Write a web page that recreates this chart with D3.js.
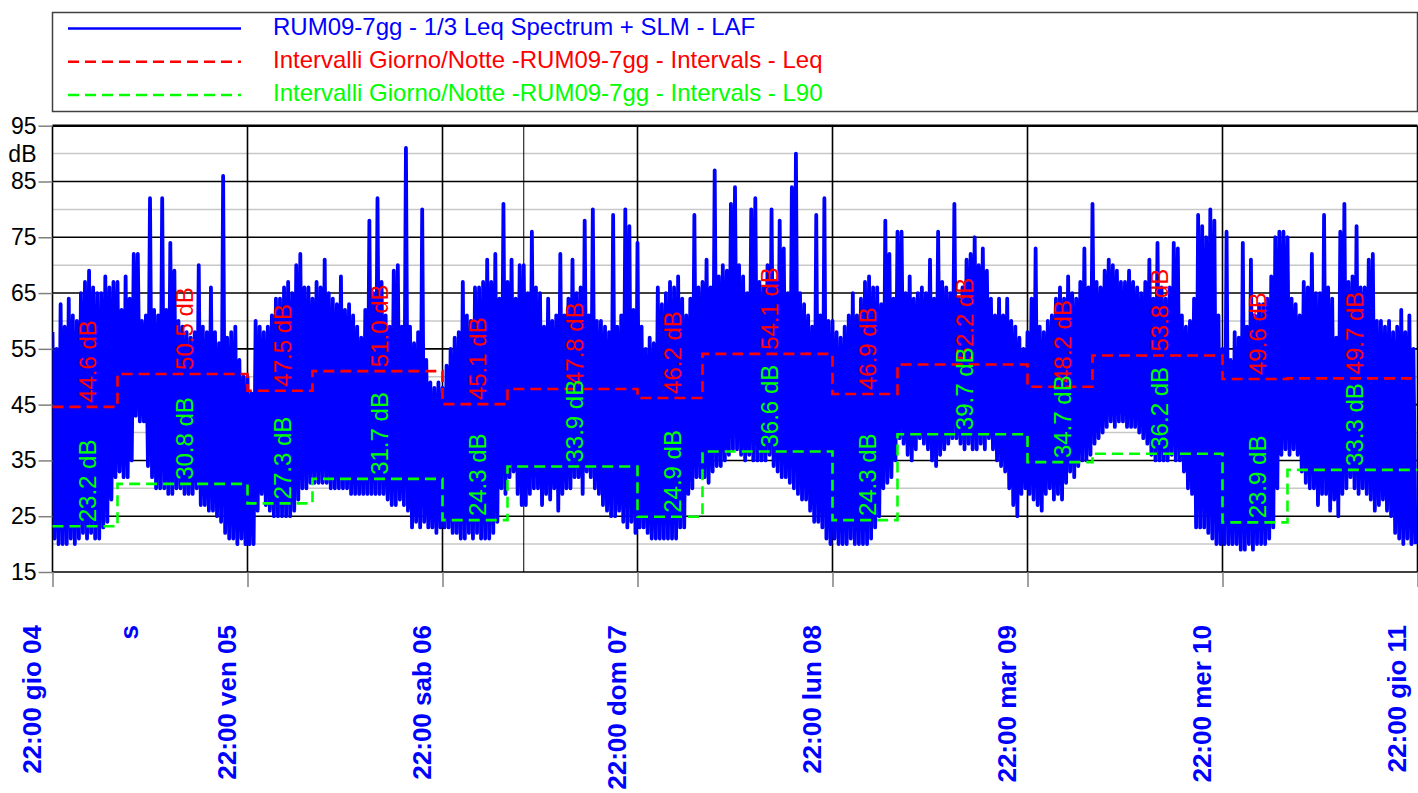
<!DOCTYPE html>
<html>
<head>
<meta charset="utf-8">
<script src="https://cdn.jsdelivr.net/npm/d3@7"></script>
<style>
  body { margin: 0; background: #fff; }
  svg { display: block; font-family: "Liberation Sans", Arial, sans-serif; }
</style>
</head>
<body>
<svg id="chart" width="1418" height="793"></svg>
<script>
// measurement starts gio 04 22:00, one LAF max/min pair per half hour
const startTime = Date.UTC(2021, 10, 4, 22, 0);

const lafMaxDays = [
  [58,55,63,59,64,61,60,65,67,69,66,65,65,68,66,67, 67,62,68,64,72,72,60,61,82,62,61,82,62,74,69,60, 59,58,57,58,70,59,58,66,58,56,86,57,58,59,53,50],
  [50,47,60,59,58,59,61,64,64,66,67,65,70,72,66,66, 64,67,66,71,65,64,63,68,62,63,61,59,57,62,78,65, 82,67,61,59,69,70,59,91,59,56,58,80,53,49,48,49],
  [48,52,55,57,58,67,61,60,66,66,67,71,67,72,64,81, 67,71,64,70,70,65,76,66,65,59,64,60,61,72,61,64, 71,65,66,78,61,80,60,60,59,58,79,59,61,80,77,62],
  [74,59,55,57,56,66,63,65,67,66,68,64,61,64,79,66, 67,71,66,87,68,70,69,81,84,70,68,65,80,82,67,66, 70,80,67,78,73,65,84,90,65,63,61,59,79,61,82,60],
  [60,58,57,59,61,65,61,64,67,68,66,66,63,78,72,64, 76,76,65,68,64,65,66,65,71,64,76,67,66,65,81,64, 66,71,72,75,70,73,69,64,61,64,61,64,60,59,57,55],
  [58,64,73,59,58,60,61,64,66,64,68,65,64,67,73,66, 81,67,66,69,71,70,69,67,67,69,67,66,65,67,71,64, 74,66,64,66,74,73,61,59,60,64,79,77,75,80,78,61],
  [55,76,53,58,57,74,59,71,61,63,63,64,68,75,76,76, 75,64,63,61,67,66,72,65,65,79,66,64,57,76,81,67, 68,77,66,66,71,72,60,60,59,60,58,59,62,58,61,55]
];

const lafMinDays = [
  [21,20,20,20,21,20,21,22,21,22,21,21,23,24,28,32, 33,32,32,35,43,42,42,34,32,30,30,30,29,29,30,30, 29,29,29,30,27,27,26,26,25,24,22,21,21,20,21,20],
  [20,20,26,29,27,26,25,25,25,25,25,26,28,30,30,31, 31,31,31,31,30,30,30,30,30,29,29,29,29,29,29,29, 29,29,28,27,27,28,27,26,23,24,23,24,23,23,22,23],
  [23,23,22,22,21,21,22,21,22,21,21,21,22,24,30,29, 32,33,29,27,27,29,30,30,27,29,28,30,26,29,30,30, 32,32,29,33,32,30,29,27,26,25,25,26,24,23,24,22],
  [23,23,22,21,21,21,21,21,21,21,23,23,29,30,32,32, 32,31,33,34,34,35,36,37,37,36,35,36,35,35,35,35, 36,34,33,32,32,31,30,29,28,28,26,24,24,23,21,20],
  [21,20,20,20,21,20,20,20,20,21,23,25,30,31,32,35, 39,38,36,35,37,39,38,37,35,34,36,37,38,39,39,38, 37,38,37,37,38,37,39,37,35,34,33,30,27,25,29,30],
  [29,28,27,26,29,30,28,29,28,31,33,32,34,35,35,36, 38,39,40,41,42,41,42,42,41,41,41,40,39,38,36,35, 35,35,35,36,35,35,33,30,29,23,23,23,22,21,20,20],
  [20,20,20,20,19,19,20,19,20,20,20,21,23,30,36,37, 36,37,36,33,31,30,30,27,29,29,26,28,25,29,30,32, 30,29,30,29,28,26,27,28,26,25,22,21,20,21,20,20]
];

// day/night intervals (hours from start): night 22-06, day 06-22
const intervalStartHours = [0, 8, 24, 32, 48, 56, 72, 80, 96, 104, 120, 128, 144, 152];
const intervalEndHour = 168;
const leqValues = [44.6, 50.5, 47.5, 51.0, 45.1, 47.8, 46.2, 54.1, 46.9, 52.2, 48.2, 53.8, 49.6, 49.7];
const l90Values = [23.2, 30.8, 27.3, 31.7, 24.3, 33.9, 24.9, 36.6, 24.3, 39.7, 34.7, 36.2, 23.9, 33.3];

const dayTickHours = [0, 24, 48, 72, 96, 120, 144, 168];
const dayTickLabels = ["22:00 gio 04", "22:00 ven 05", "22:00 sab 06", "22:00 dom 07",
  "22:00 lun 08", "22:00 mar 09", "22:00 mer 10", "22:00 gio 11"];
const extraLabelHours = [12];
const extraLabels = ["s"];
const markerHours = [58];

const yTicks = [15, 25, 35, 45, 55, 65, 75, 85, 95];
const yMinorTicks = [20, 30, 40, 50, 60, 70, 80, 90];

const legendItems = [
  { text: "RUM09-7gg - 1/3 Leq Spectrum + SLM - LAF", color: "#0000ff", dash: null },
  { text: "Intervalli Giorno/Notte -RUM09-7gg - Intervals - Leq", color: "#ff0000", dash: "11,6" },
  { text: "Intervalli Giorno/Notte -RUM09-7gg - Intervals - L90", color: "#00ff00", dash: "11,6" }
];

const hourToDate = (h) => new Date(startTime + h * 3600e3);

const plotLeft = 52.5, plotRight = 1417.5, plotTop = 125.7, plotBottom = 572;

const x = d3.scaleUtc().domain([hourToDate(0), hourToDate(168)]).range([plotLeft, plotRight]);
const y = d3.scaleLinear().domain([15, 95]).range([plotBottom, plotTop]);

const svg = d3.select("#chart");

// legend
const legend = svg.append("g");
legend.append("rect")
  .attr("x", 52.5).attr("y", 12.5).attr("width", 1365).attr("height", 99)
  .attr("fill", "none").attr("stroke", "#404040").attr("stroke-width", 1.5);

legendItems.forEach((item, i) => {
  const ly = 28.5 + i * 33.3;
  legend.append("line")
    .attr("x1", 68).attr("x2", 241).attr("y1", ly).attr("y2", ly)
    .attr("stroke", item.color).attr("stroke-width", 2.5)
    .attr("stroke-dasharray", item.dash);
  legend.append("text")
    .attr("x", 273).attr("y", ly + 6)
    .attr("font-size", 24).attr("fill", item.color)
    .text(item.text);
});

// grid
const grid = svg.append("g");
grid.selectAll(".minor").data(yMinorTicks).join("line")
  .attr("x1", plotLeft).attr("x2", plotRight)
  .attr("y1", (d) => y(d)).attr("y2", (d) => y(d))
  .attr("stroke", "#c8c8c8").attr("stroke-width", 1.5);
grid.selectAll(".major").data(yTicks.slice(1, -1)).join("line")
  .attr("x1", plotLeft).attr("x2", plotRight)
  .attr("y1", (d) => y(d)).attr("y2", (d) => y(d))
  .attr("stroke", "#000").attr("stroke-width", 1.6);
grid.selectAll(".day").data(dayTickHours).join("line")
  .attr("x1", (d) => x(hourToDate(d))).attr("x2", (d) => x(hourToDate(d)))
  .attr("y1", plotTop).attr("y2", plotBottom)
  .attr("stroke", "#000").attr("stroke-width", 1.6);
grid.selectAll(".marker").data(markerHours).join("line")
  .attr("x1", (d) => x(hourToDate(d))).attr("x2", (d) => x(hourToDate(d)))
  .attr("y1", plotTop).attr("y2", plotBottom)
  .attr("stroke", "#000").attr("stroke-width", 1);

// LAF trace
svg.append("clipPath").attr("id", "plot-clip")
  .append("rect").attr("x", plotLeft).attr("y", plotTop)
  .attr("width", plotRight - plotLeft).attr("height", plotBottom - plotTop);

const lafPoints = [];
lafMaxDays.forEach((day, d) => {
  day.forEach((v, k) => {
    lafPoints.push({ t: hourToDate(d * 24 + k * 0.5), v: v });
    lafPoints.push({ t: hourToDate(d * 24 + k * 0.5 + 0.25), v: lafMinDays[d][k] });
  });
});

svg.append("path")
  .datum(lafPoints)
  .attr("clip-path", "url(#plot-clip)")
  .attr("fill", "none")
  .attr("stroke", "#0000ff")
  .attr("stroke-width", 3.8)
  .attr("stroke-linejoin", "round")
  .attr("d", d3.line().x((d) => x(d.t)).y((d) => y(d.v)));

// interval steps
function stepData(values) {
  const pts = intervalStartHours.map((h, i) => ({ h: h, v: values[i] }));
  pts.push({ h: intervalEndHour, v: values[values.length - 1] });
  return pts;
}
const stepLine = d3.line().curve(d3.curveStepAfter)
  .x((d) => x(hourToDate(d.h))).y((d) => y(d.v));

[[leqValues, "#ff0000"], [l90Values, "#00ff00"]].forEach(([values, color]) => {
  svg.append("path")
    .datum(stepData(values))
    .attr("fill", "none")
    .attr("stroke", color)
    .attr("stroke-width", 2.6)
    .attr("stroke-dasharray", "11,6")
    .attr("d", stepLine);
});

[[leqValues, "#ff0000"], [l90Values, "#00ff00"]].forEach(([values, color]) => {
  svg.append("g").selectAll("text").data(values).join("text")
    .attr("transform", (d, i) => {
      const h0 = intervalStartHours[i];
      const h1 = i + 1 < intervalStartHours.length ? intervalStartHours[i + 1] : intervalEndHour;
      const cx = (x(hourToDate(h0)) + x(hourToDate(h1))) / 2 + 2;
      return `translate(${cx},${y(d) - 4}) rotate(-90)`;
    })
    .attr("dy", "0.36em")
    .attr("font-size", 24)
    .attr("fill", color)
    .text((d) => d.toFixed(1) + " dB");
});

// plot frame
svg.append("line").attr("x1", plotLeft).attr("x2", plotRight).attr("y1", plotTop).attr("y2", plotTop)
  .attr("stroke", "#000").attr("stroke-width", 2.5);
svg.append("line").attr("x1", plotLeft).attr("x2", plotRight).attr("y1", plotBottom).attr("y2", plotBottom)
  .attr("stroke", "#000").attr("stroke-width", 1.6);

// y axis
const yAxis = svg.append("g")
  .attr("transform", `translate(${plotLeft},0)`)
  .call(d3.axisLeft(y).tickValues(yTicks).tickSize(14).tickPadding(2).tickFormat(d3.format("d")));
yAxis.select(".domain").remove();
yAxis.selectAll(".tick line").attr("stroke", "#808080").attr("stroke-width", 1.5);
yAxis.selectAll(".tick text").attr("font-size", 23)
  .attr("font-family", "Liberation Sans, Arial, sans-serif").attr("fill", "#000");
svg.append("text")
  .attr("x", plotLeft - 16).attr("y", y(90)).attr("dy", "0.35em")
  .attr("text-anchor", "end").attr("font-size", 23).text("dB");

// x axis
const xAxis = svg.append("g")
  .attr("transform", `translate(0,${plotBottom})`)
  .call(d3.axisBottom(x).tickValues(dayTickHours.map(hourToDate)).tickSize(15).tickFormat(""));
xAxis.select(".domain").remove();
xAxis.selectAll(".tick line").attr("stroke", "#808080").attr("stroke-width", 1.5);

const xLabels = dayTickHours.map((h, i) => ({ h: h, text: dayTickLabels[i] }))
  .concat(extraLabelHours.map((h, i) => ({ h: h, text: extraLabels[i] })));
svg.append("g").selectAll("text").data(xLabels).join("text")
  .attr("transform", (d) => `translate(${x(hourToDate(d.h)) - 12},625) rotate(-90)`)
  .attr("text-anchor", "end")
  .attr("font-size", 26)
  .attr("font-weight", "bold")
  .attr("fill", "#0000ff")
  .text((d) => d.text);
</script>
</body>
</html>
